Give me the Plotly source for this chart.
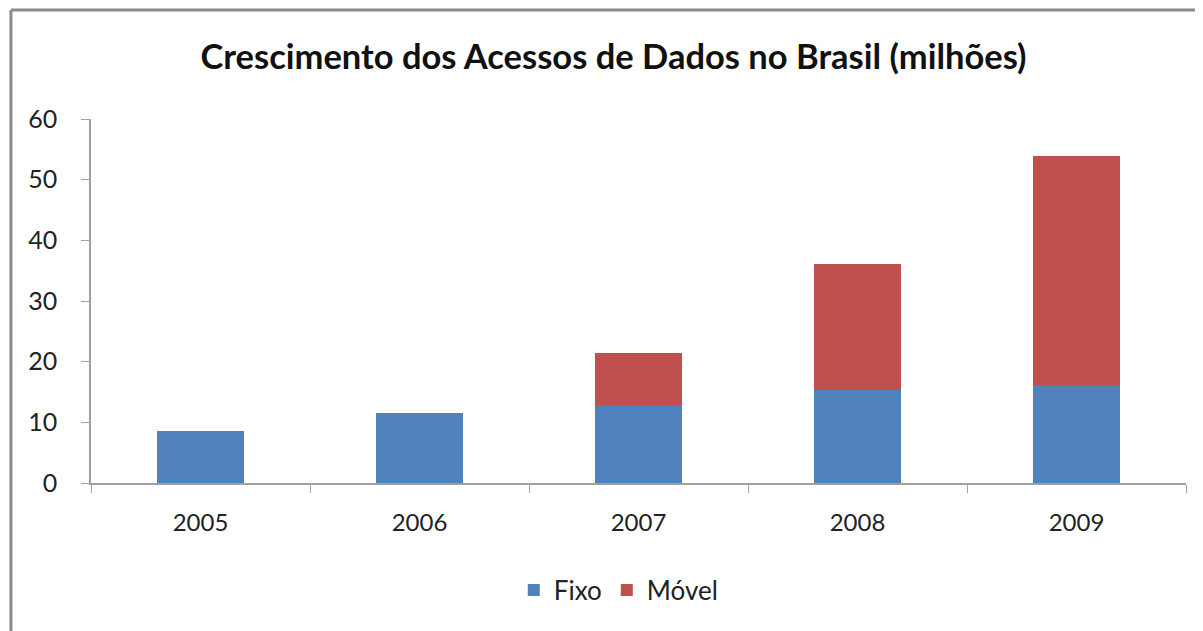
import plotly.graph_objects as go

years = ["2005", "2006", "2007", "2008", "2009"]
fixo = [8.6, 11.5, 12.8, 15.3, 16.1]
movel = [0, 0, 8.7, 20.8, 37.8]

font_family = "Lato, Open Sans, sans-serif"

fig = go.Figure()
fig.add_trace(go.Bar(x=years, y=fixo, name="Fixo",
                     marker=dict(color="#4F81BD", line=dict(width=0))))
fig.add_trace(go.Bar(x=years, y=movel, name="Móvel",
                     marker=dict(color="#C0504D", line=dict(width=0))))

frame_color = "#8A8A8A"
fig.update_layout(
    width=1195, height=623,
    barmode="stack", bargap=0.6,
    paper_bgcolor="white", plot_bgcolor="white",
    margin=dict(l=83, r=17, t=111, b=148, autoexpand=False),
    font=dict(family=font_family, color="#222222", size=22),
    title=dict(text="<b>Crescimento dos Acessos de Dados no Brasil (milhões)</b>",
               xref="container", x=0.5067, xanchor="center",
               yref="container", y=1 - 49 / 623, yanchor="middle",
               font=dict(size=34.5, family=font_family, color="#111111")),
    showlegend=True,
    legend=dict(orientation="h", x=0.482, xanchor="center", y=-0.294, yanchor="middle",
                font=dict(size=26), traceorder="normal", itemwidth=30),
    xaxis=dict(showline=True, linecolor="#A0A0A0", linewidth=1.5,
               ticks="outside", tickson="boundaries", ticklen=8, tickcolor="#A0A0A0",
               showgrid=False, tickfont=dict(size=24), ticklabelstandoff=17),
    yaxis=dict(range=[0, 60], dtick=10, showline=True, linecolor="#A0A0A0", linewidth=1.5,
               ticks="outside", ticklen=8, tickcolor="#A0A0A0", showgrid=False,
               ticklabelstandoff=19, tickfont=dict(size=25), zeroline=False),
    shapes=[
        dict(type="line", xref="paper", yref="paper", x0=-0.0731, x1=-0.0731, y0=-0.45, y1=1.2995,
             line=dict(color=frame_color, width=3)),
        dict(type="line", xref="paper", yref="paper", x0=-0.0731, x1=1.03, y0=1.2995, y1=1.2995,
             line=dict(color=frame_color, width=3)),
    ],
)

fig.write_html("out.html")
